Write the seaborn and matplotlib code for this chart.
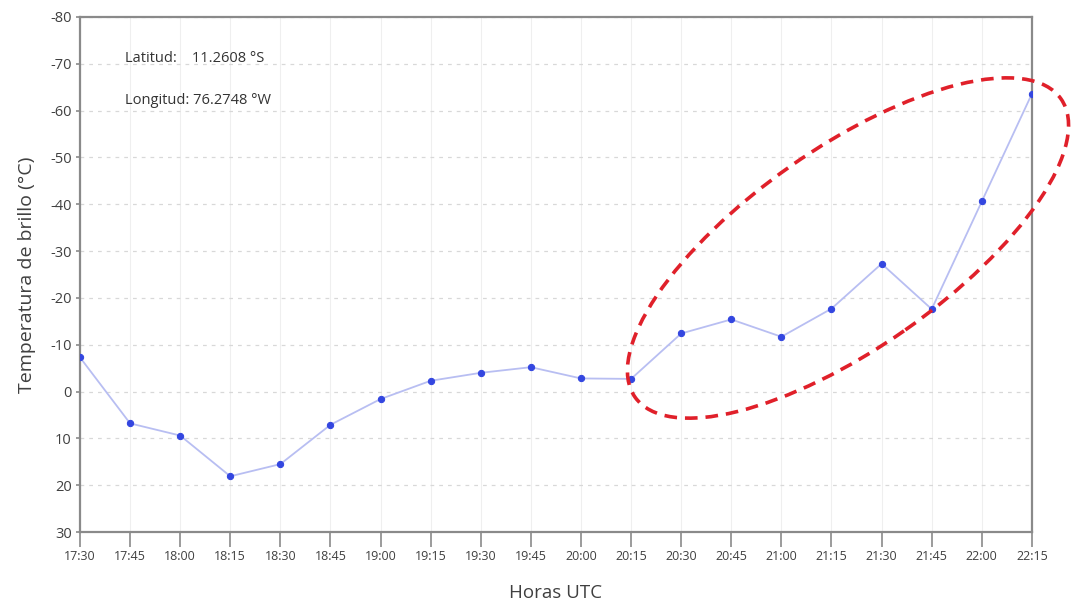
import matplotlib
matplotlib.use("Agg")
import matplotlib.pyplot as plt
from matplotlib.patches import Ellipse
import seaborn as sns
import pandas as pd

# ── Datos ─────────────────────────────────────────────────────────────────────
horas = ["17:30", "17:45", "18:00", "18:15", "18:30", "18:45", "19:00", "19:15",
         "19:30", "19:45", "20:00", "20:15", "20:30", "20:45", "21:00", "21:15",
         "21:30", "21:45", "22:00", "22:15"]
temperatura = [-7.3, 6.8, 9.4, 18.1, 15.5, 7.1, 1.6, -2.3, -4.0, -5.2, -2.8, -2.7,
               -12.4, -15.4, -11.7, -17.7, -27.3, -17.6, -40.6, -63.6]
y_ticks = [-80, -70, -60, -50, -40, -30, -20, -10, 0, 10, 20, 30]

df = pd.DataFrame({"hora": range(len(horas)), "temp": temperatura})

# ── Figura ────────────────────────────────────────────────────────────────────
sns.set_theme(style="white")
plt.rcParams["font.family"] = ["Open Sans", "DejaVu Sans"]

fig = plt.figure(figsize=(10.72, 6.04), dpi=100)
ax = fig.add_axes([0.0746, 0.1192, 0.888, 0.8527])

sns.lineplot(data=df, x="hora", y="temp", ax=ax, color="#b8bef2", linewidth=1.3,
             marker="o", markersize=4.5, markerfacecolor="#3346e0",
             markeredgecolor="#3346e0", zorder=3)

ax.set_xlim(0, len(horas) - 1)
ax.set_ylim(30, -80)
ax.set_xticks(range(len(horas)))
ax.set_xticklabels(horas, fontsize=9, color="#404040")
ax.set_yticks(y_ticks)
ax.set_yticklabels([str(v) for v in y_ticks], fontsize=10.5, color="#404040")

# rejilla
ax.grid(axis="y", linestyle=(0, (3, 4)), color="#d8d8d8", linewidth=0.9)
ax.grid(axis="x", linestyle="-", color="#efefef", linewidth=0.8)
ax.set_axisbelow(True)

for s in ax.spines.values():
    s.set_color("#8a8a8a")
    s.set_linewidth(1.6)

ax.tick_params(axis="x", direction="out", length=11, width=1.2, color="#8a8a8a",
               bottom=True, pad=2)
ax.tick_params(axis="y", direction="out", length=3, width=1.2, color="#8a8a8a",
               left=True, pad=3)

ax.set_xlabel("Horas UTC", fontsize=13.5, color="#404040", labelpad=15)
ax.set_ylabel("Temperatura de brillo (°C)", fontsize=14, color="#404040", labelpad=10)

# coordenadas
ax.text(0.047, 0.92, "Latitud:    11.2608 °S", transform=ax.transAxes,
        fontsize=10.5, color="#333333", va="center")
ax.text(0.047, 0.838, "Longitud: 76.2748 °W", transform=ax.transAxes,
        fontsize=10.5, color="#333333", va="center")

# elipse de resalte (en pulgadas de figura)
elipse = Ellipse((8.48, 3.56), 5.20, 2.0, angle=35, transform=fig.dpi_scale_trans,
                 fill=False, edgecolor="#e0202a", linewidth=2.6,
                 linestyle=(0, (3.5, 2.2)), clip_on=False, zorder=5)
fig.patches.append(elipse)

plt.savefig("out.png", dpi=100)
plt.close()
